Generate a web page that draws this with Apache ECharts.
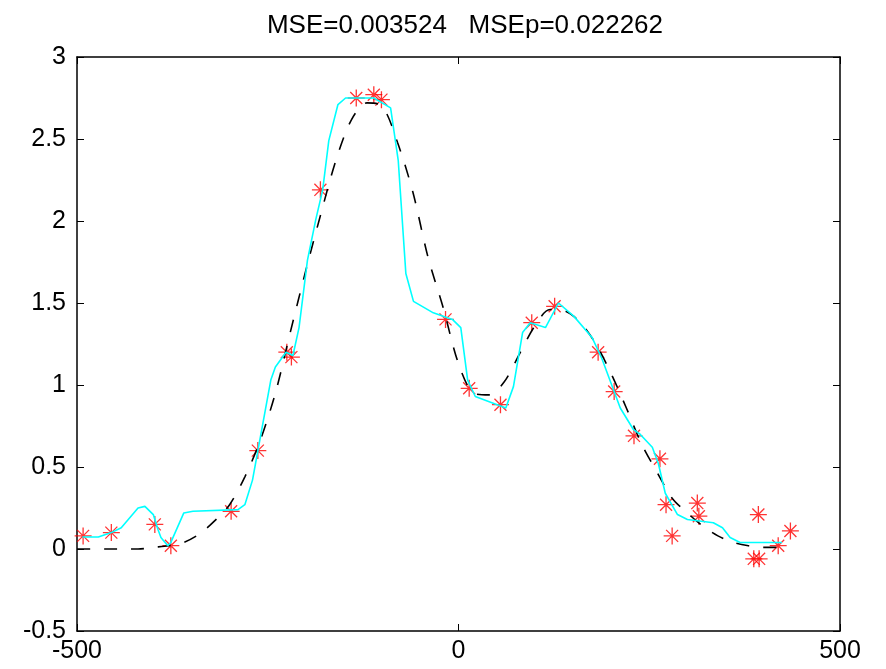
<!DOCTYPE html>
<html>
<head>
<meta charset="utf-8">
<script src="https://cdn.jsdelivr.net/npm/echarts@6/dist/echarts.min.js"></script>
<style>
  html, body { margin: 0; padding: 0; background: #fff; }
  #root { width: 886px; height: 669px; }
</style>
</head>
<body>
<div id="root"></div>
<script>
// sample points (red asterisks)
var sampleX = [-492, -455, -398, -377, -298, -263, -225, -219, -181, -134, -111, -101,
  -17, 14, 55, 96, 126, 183, 204, 230, 264, 272, 280, 313, 315, 393, 387, 394, 419, 435];
var sampleY = [0.08, 0.10, 0.15, 0.02, 0.23, 0.60, 1.20, 1.17, 2.19, 2.75, 2.77, 2.74,
  1.40, 0.98, 0.88, 1.38, 1.48, 1.20, 0.96, 0.69, 0.55, 0.27, 0.08, 0.28, 0.20, 0.21, -0.06, -0.06, 0.02, 0.11];

// fitted curve (cyan)
var fitX = [-493, -472, -455, -442, -420, -411, -400, -394, -390, -381, -377, -360, -348, -289, -280, -270,
  -246, -240, -226, -217, -209, -198, -187, -178, -170, -158, -148, -111, -89, -79, -69, -59, -33, -8, 3, 12,
  22, 62, 72, 84, 94, 114, 131, 151, 175, 188, 212, 229, 238, 254, 262, 271, 287, 300, 334, 346, 356, 369, 424];
var fitY = [0.073, 0.073, 0.10, 0.13, 0.25, 0.26, 0.21, 0.12, 0.07, 0.02, 0.04, 0.22, 0.23, 0.24, 0.27, 0.42,
  1.03, 1.11, 1.20, 1.18, 1.35, 1.76, 2.01, 2.19, 2.49, 2.71, 2.75, 2.75, 2.69, 2.37, 1.68, 1.51, 1.44, 1.40, 1.35, 1.03,
  0.93, 0.86, 0.99, 1.32, 1.38, 1.35, 1.50, 1.42, 1.29, 1.16, 0.86, 0.73, 0.70, 0.62, 0.52, 0.34, 0.21, 0.18, 0.16, 0.13, 0.07, 0.04, 0.04];

// true function (black dashed)
var trueX = [-500, -480, -460, -440, -420, -400, -380, -360, -340, -320, -300, -280, -260, -240, -220, -200,
  -180, -160, -140, -120, -100, -80, -60, -40, -20, 0, 20, 40, 60, 80, 100, 120, 140, 160, 180, 200,
  220, 240, 260, 280, 300, 320, 340, 360, 380, 400, 420];
var trueY = [0.0, 0.0, 0.0, 0.0, 0.0, 0.01, 0.02, 0.04, 0.09, 0.17, 0.27, 0.44, 0.66, 0.95, 1.33, 1.70,
  2.05, 2.38, 2.62, 2.72, 2.70, 2.48, 2.18, 1.78, 1.47, 1.13, 0.95, 0.94, 1.02, 1.19, 1.36, 1.46, 1.45, 1.38, 1.25, 1.07,
  0.86, 0.64, 0.47, 0.31, 0.22, 0.14, 0.08, 0.04, 0.02, 0.01, 0.01];

var titleText = 'MSE=0.003524   MSEp=0.022262';

function zip(xs, ys) {
  return xs.map(function (x, i) { return [x, ys[i]]; });
}

var chart = echarts.init(document.getElementById('root'));
var font = 'Liberation Sans, Arial, Helvetica, sans-serif';
var tick = { show: true, inside: true, length: 7, lineStyle: { color: '#000', width: 1 } };
var line = { show: true, onZero: false, lineStyle: { color: '#000', width: 1.5 } };

var option = {
  animation: false,
  backgroundColor: '#fff',
  title: {
    text: titleText, left: 460, top: 8, textAlign: 'center',
    textStyle: { fontFamily: font, fontSize: 26, fontWeight: 'normal', color: '#000' }
  },
  grid: { left: 77, right: 46, top: 57, bottom: 38 },
  xAxis: [{
    type: 'value', min: -500, max: 500, interval: 500, position: 'bottom',
    axisLine: line, axisTick: tick, splitLine: { show: false },
    axisLabel: { color: '#000', fontFamily: font, fontSize: 25, margin: 8 }
  }, {
    type: 'value', min: -500, max: 500, interval: 500, position: 'top',
    axisLine: line, axisTick: tick, splitLine: { show: false }, axisLabel: { show: false }
  }],
  yAxis: [{
    type: 'value', min: -0.5, max: 3, interval: 0.5, position: 'left',
    axisLine: line, axisTick: tick, splitLine: { show: false },
    axisLabel: { color: '#000', fontFamily: font, fontSize: 25, margin: 11 }
  }, {
    type: 'value', min: -0.5, max: 3, interval: 0.5, position: 'right',
    axisLine: line, axisTick: tick, splitLine: { show: false }, axisLabel: { show: false }
  }],
  series: [{
    name: 'true', type: 'line', data: zip(trueX, trueY), showSymbol: false, smooth: 0.3,
    lineStyle: { color: '#000', width: 1.6, type: [13, 14] }
  }, {
    name: 'fit', type: 'line', data: zip(fitX, fitY), showSymbol: false,
    lineStyle: { color: '#00ffff', width: 1.6 }
  }, {
    name: 'samples', type: 'scatter', data: zip(sampleX, sampleY),
    symbol: 'path://M0,-10L0,10M-10,0L10,0M-7.07,-7.07L7.07,7.07M-7.07,7.07L7.07,-7.07',
    symbolSize: 17,
    itemStyle: { color: 'rgba(0,0,0,0)', borderColor: '#ff0000', borderWidth: 1.3 }
  }]
};

chart.setOption(option);
</script>
</body>
</html>
